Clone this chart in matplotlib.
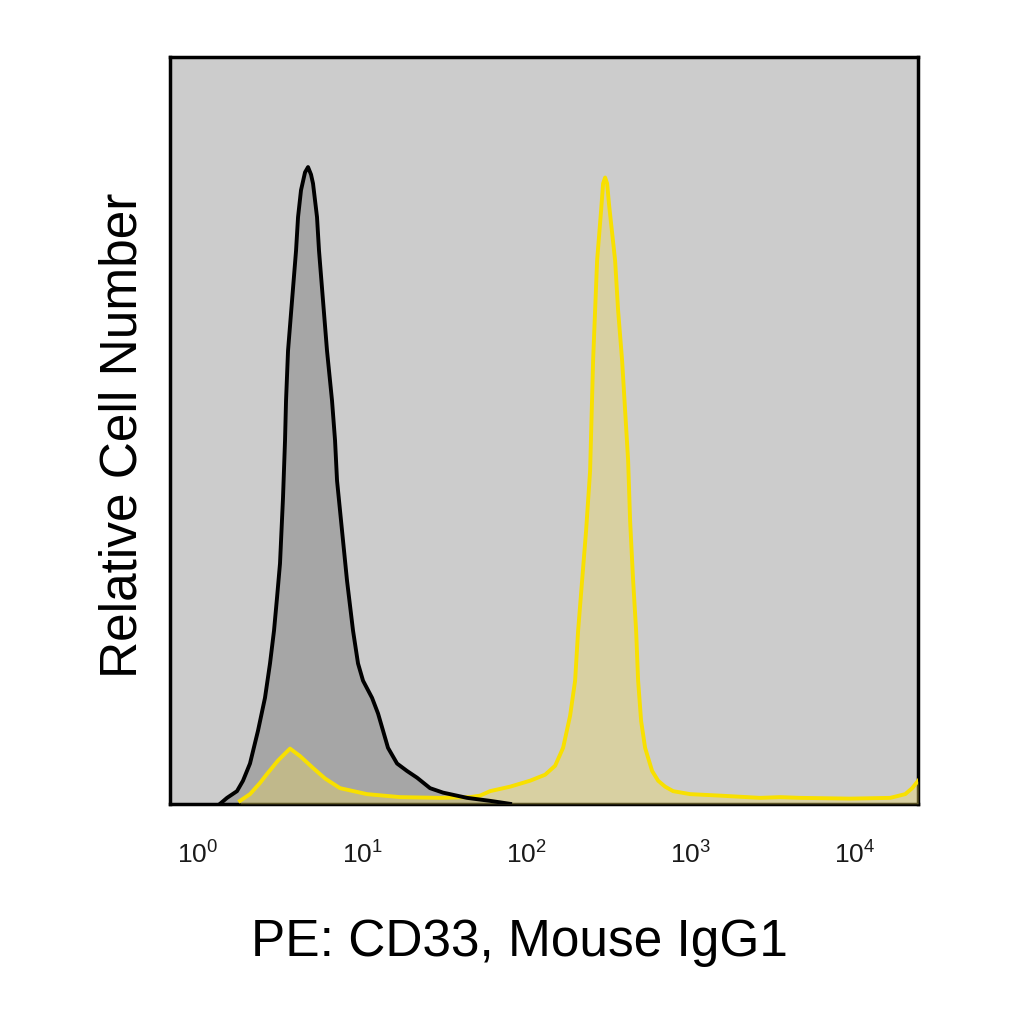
import numpy as np
import matplotlib
matplotlib.use("Agg")
import matplotlib.pyplot as plt
from matplotlib.ticker import FixedLocator, FixedFormatter

plt.rcParams['font.family'] = ['Liberation Sans', 'DejaVu Sans']
plt.rcParams['mathtext.fontset'] = 'custom'
plt.rcParams['mathtext.rm'] = 'Liberation Sans'
plt.rcParams['mathtext.it'] = 'Liberation Sans'

# isotype control (black / grey fill)
ctrl_x = [1.362, 1.503, 1.729, 1.881, 2.075, 2.322, 2.561, 2.748, 2.907, 3.032,
          3.162, 3.298, 3.393, 3.441, 3.539, 3.743, 3.960, 4.073, 4.246, 4.493,
          4.686, 4.887, 5.026, 5.316, 5.467, 5.783, 6.117, 6.563, 6.846, 7.041,
          7.551, 8.100, 8.813, 9.454, 10.14, 11.51, 12.52, 13.43, 14.40, 16.35,
          18.81, 21.65, 25.98, 31.18, 43.68, 60.33, 79.88]
ctrl_y = [0.0, 0.008, 0.017, 0.031, 0.054, 0.098, 0.142, 0.188, 0.232, 0.276,
          0.322, 0.410, 0.487, 0.540, 0.607, 0.674, 0.741, 0.786, 0.822, 0.846,
          0.853, 0.843, 0.831, 0.786, 0.741, 0.674, 0.607, 0.540, 0.487, 0.433,
          0.366, 0.299, 0.232, 0.188, 0.165, 0.142, 0.121, 0.098, 0.075, 0.054,
          0.044, 0.035, 0.021, 0.015, 0.008, 0.004, 0.0]

# PE CD33 stained (yellow)
cd33_x = [1.804, 2.075, 2.388, 2.634, 3.075, 3.639, 4.188, 5.026, 5.948, 7.342,
          10.73, 17.05, 29.90, 45.56, 52.42, 60.33, 79.88, 105.8, 130.6, 150.3,
          168.1, 185.5, 199.0, 207.6, 219.5, 232.2, 245.6, 256.2, 263.5, 271.0,
          286.6, 294.8, 303.2, 311.9, 320.7, 348.9, 363.9, 384.9, 401.5, 418.8,
          430.7, 449.3, 468.6, 481.9, 502.6, 531.6, 586.6, 638.2, 704.2, 787.6,
          1000, 1524, 2673, 3539, 4686, 9454, 16580, 20470, 22580, 24560]
cd33_y = [0.004, 0.013, 0.028, 0.040, 0.058, 0.074, 0.064, 0.048, 0.034, 0.021,
          0.013, 0.009, 0.008, 0.009, 0.011, 0.017, 0.023, 0.031, 0.039, 0.051,
          0.075, 0.118, 0.165, 0.232, 0.299, 0.366, 0.446, 0.594, 0.661, 0.728,
          0.795, 0.831, 0.839, 0.831, 0.802, 0.728, 0.661, 0.594, 0.527, 0.460,
          0.379, 0.299, 0.232, 0.165, 0.111, 0.075, 0.044, 0.031, 0.023, 0.017,
          0.013, 0.011, 0.008, 0.009, 0.008, 0.007, 0.008, 0.013, 0.021, 0.031]

tick_vals = [1, 10, 100, 1000, 10000]
tick_labels = ['$10^{0}$', '$10^{1}$', '$10^{2}$', '$10^{3}$', '$10^{4}$']

fig = plt.figure(figsize=(10.24, 10.24), dpi=100)
ax = fig.add_axes([0.166, 0.215, 0.7305, 0.729])
ax.set_facecolor('#cccccc')

ax.fill_between(ctrl_x, ctrl_y, 0, color='#a6a6a6', zorder=2)
ax.fill_between(cd33_x, cd33_y, 0, color='#ecd860', alpha=0.38, linewidth=0, zorder=3)
ax.plot(cd33_x, cd33_y, color='#f8e000', linewidth=2.8, zorder=4,
        solid_joinstyle='round')
ax.plot(ctrl_x, ctrl_y, color='black', linewidth=2.8, zorder=5,
        solid_joinstyle='round')

ax.set_xscale('log')
ax.set_xlim(0.675, 24500)
ax.set_ylim(0, 1.0)
ax.xaxis.set_major_locator(FixedLocator(tick_vals))
ax.xaxis.set_major_formatter(FixedFormatter(tick_labels))
ax.xaxis.set_minor_locator(FixedLocator([]))
ax.set_yticks([])
ax.tick_params(axis='x', length=0, pad=27, labelsize=19, colors='#1a1a1a')

for s in ax.spines.values():
    s.set_linewidth(2.5)
    s.set_color('black')

ax.set_xlabel('PE: CD33, Mouse IgG1', fontsize=37)
ax.xaxis.set_label_coords(0.467, -0.153)
ax.set_ylabel('Relative Cell Number', fontsize=37)
ax.yaxis.set_label_coords(-0.03, 0.494)

fig.savefig('out.png', dpi=100, facecolor='white')
